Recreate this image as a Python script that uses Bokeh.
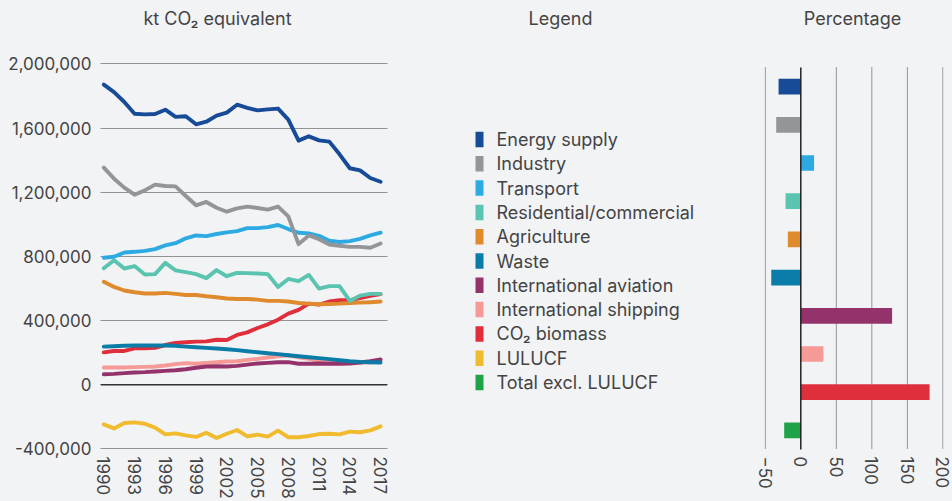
from bokeh.plotting import figure
from bokeh.layouts import row
from bokeh.models import FixedTicker, NumeralTickFormatter, Span, Range1d, ColumnDataSource
from bokeh.embed import file_html
from bokeh.resources import INLINE
from bokeh.core.properties import value

FONT = "Inter"
TXT = "#444444"
BG = "#f2f3f5"
GRID = "#333333"

years = list(range(1990, 2018))
year_ticks = [1990, 1993, 1996, 1999, 2002, 2005, 2008, 2011, 2014, 2017]
value_ticks = [-400000, 0, 400000, 800000, 1200000, 1600000, 2000000]

energy_supply = [1871000, 1825000, 1763000, 1690000, 1686000, 1688000, 1715000, 1670000, 1674000, 1624000,
                 1640000, 1678000, 1697000, 1746000, 1726000, 1711000, 1717000, 1722000, 1653000, 1522000,
                 1549000, 1524000, 1516000, 1437000, 1350000, 1337000, 1289000, 1266000]
industry = [1354000, 1285000, 1229000, 1185000, 1212000, 1248000, 1239000, 1237000, 1177000, 1119000,
            1140000, 1104000, 1079000, 1100000, 1111000, 1102000, 1092000, 1111000, 1050000, 877000,
            931000, 908000, 875000, 867000, 860000, 860000, 854000, 881000]
transport = [792000, 798000, 825000, 829000, 835000, 846000, 869000, 883000, 913000, 931000,
             927000, 940000, 950000, 958000, 977000, 977000, 983000, 996000, 971000, 948000,
             944000, 929000, 898000, 890000, 896000, 910000, 931000, 948000]
residential = [727000, 777000, 725000, 740000, 688000, 690000, 760000, 713000, 702000, 690000,
               665000, 715000, 677000, 698000, 696000, 694000, 690000, 610000, 660000, 646000,
               685000, 600000, 615000, 615000, 523000, 556000, 567000, 567000]
agriculture = [642000, 610000, 588000, 577000, 569000, 569000, 573000, 567000, 560000, 560000,
               552000, 546000, 538000, 535000, 535000, 531000, 523000, 523000, 519000, 510000,
               506000, 502000, 504000, 506000, 510000, 512000, 515000, 519000]
waste = [238000, 240000, 243000, 245000, 245000, 245000, 245000, 243000, 238000, 234000,
         230000, 226000, 222000, 216000, 209000, 203000, 197000, 191000, 184000, 178000,
         172000, 166000, 160000, 153000, 147000, 143000, 141000, 139000]
int_aviation = [66000, 68000, 73000, 77000, 79000, 83000, 87000, 91000, 97000, 106000,
                114000, 116000, 114000, 118000, 126000, 133000, 137000, 141000, 141000, 131000,
                131000, 133000, 131000, 131000, 133000, 139000, 147000, 158000]
int_shipping = [108000, 108000, 108000, 110000, 112000, 114000, 120000, 129000, 135000, 131000,
                137000, 141000, 145000, 147000, 155000, 162000, 170000, 178000, 184000, 172000,
                162000, 151000, 145000, 141000, 139000, 139000, 139000, 143000]
co2_biomass = [202000, 211000, 211000, 227000, 227000, 231000, 248000, 261000, 265000, 269000,
               271000, 281000, 279000, 311000, 327000, 354000, 377000, 406000, 444000, 467000,
               506000, 500000, 519000, 527000, 527000, 540000, 554000, 565000]
lulucf = [-247000, -272000, -238000, -234000, -243000, -267000, -309000, -303000, -315000, -325000,
          -299000, -332000, -305000, -282000, -321000, -311000, -323000, -286000, -327000, -327000,
          -319000, -307000, -305000, -309000, -292000, -296000, -284000, -259000]

legend_labels = ["Energy supply", "Industry", "Transport", "Residential/commercial", "Agriculture",
                 "Waste", "International aviation", "International shipping", "CO\u2082 biomass",
                 "LULUCF", "Total excl. LULUCF"]
legend_colors = ["#174a97", "#939598", "#2eaae2", "#5ac4b1", "#e08a2e", "#0a7ca8",
                 "#94336b", "#f59a97", "#df2f3c", "#f1bb2f", "#1ea349"]

series = [energy_supply, industry, transport, residential, agriculture, waste,
          int_aviation, int_shipping, co2_biomass, lulucf]

pct_labels = ["Energy supply", "Industry", "Transport", "Residential/commercial", "Agriculture",
              "Waste", "International aviation", "International shipping", "CO\u2082 biomass",
              "Total excl. LULUCF"]
pct_values = [-31.3, -34.6, 18.7, -21.5, -18.2, -41.6, 128.5, 31.8, 181.3, -23.4]
pct_colors = ["#174a97", "#939598", "#2eaae2", "#5ac4b1", "#e08a2e", "#0a7ca8",
              "#94336b", "#f59a97", "#df2f3c", "#1ea349"]
pct_ticks = [-50, 0, 50, 100, 150, 200]

H = 501
BOTTOM = 50          # space below the frames (tick labels)
FRAME_BOTTOM = H - BOTTOM   # page y of the frames' bottom edge


def style_axes(p):
    p.background_fill_color = BG
    p.border_fill_color = BG
    p.outline_line_color = None
    for ax in (p.xaxis, p.yaxis):
        ax.axis_line_color = None
        ax.major_tick_line_color = None
        ax.minor_tick_line_color = None
        ax.major_tick_out = 0
        ax.major_tick_in = 0
        ax.minor_tick_out = 0
        ax.minor_tick_in = 0
        ax.major_label_text_font = FONT
        ax.major_label_text_font_size = "17px"
        ax.major_label_text_color = TXT


def title_text(p, x, y, s):
    p.text(x=[x], y=[y], text=[s], text_font=value(FONT), text_font_size="18px",
           text_color=TXT, text_baseline="middle", text_align="center")


# ---------- left: line chart ----------
# pixel geometry of the left chart: 1990 at x=103.3, 10.25 px/year; 0 at y=384.3, 6234 units/px
X0, PXY, Y0, UPP = 103.3, 10.25, 384.3, 6234.0
def x1(px):
    return 1990 + (px - X0) / PXY
def y1(py):
    return (Y0 - py) * UPP

p1 = figure(width=440, height=H, output_backend="svg", toolbar_location=None,
            x_range=Range1d(x1(100), x1(387)), y_range=Range1d(y1(FRAME_BOTTOM), y1(0)),
            min_border_left=100, min_border_right=53, min_border_top=0, min_border_bottom=BOTTOM)
style_axes(p1)
p1.xaxis.ticker = FixedTicker(ticks=year_ticks)
p1.xaxis.major_label_orientation = "vertical"
p1.xaxis.major_label_standoff = 5
p1.yaxis.ticker = FixedTicker(ticks=value_ticks)
p1.yaxis.formatter = NumeralTickFormatter(format="0,0")
p1.yaxis.major_label_standoff = 9
p1.xgrid.grid_line_color = None
p1.ygrid.grid_line_color = GRID
p1.ygrid.grid_line_dash = "1 1"
p1.ygrid.grid_line_width = 1
p1.add_layout(Span(location=0, dimension="width", line_color="#333333", line_width=1.5))

for vals, col in reversed(list(zip(series, legend_colors[:10]))):
    p1.line(years, vals, line_color=col, line_width=3.9, line_join="round", line_cap="round")
title_text(p1, x1(217), y1(18), "kt CO\u2082 equivalent")

# ---------- middle: legend ----------
W2 = 300
p2 = figure(width=W2, height=H, output_backend="svg", toolbar_location=None,
            x_range=Range1d(0, W2), y_range=Range1d(FRAME_BOTTOM, 0),
            min_border_left=0, min_border_right=0, min_border_top=0, min_border_bottom=BOTTOM)
p2.background_fill_color = BG
p2.border_fill_color = BG
p2.outline_line_color = None
p2.axis.visible = False
p2.grid.visible = False
leg_y = [139 + 24.3 * i for i in range(len(legend_labels))]
src = ColumnDataSource(dict(y=leg_y, label=legend_labels, color=legend_colors))
p2.rect(x=39, y="y", width=8, height=15.5, fill_color="color", line_color=None, source=src)
p2.text(x=56, y="y", text="label", source=src, text_font=value(FONT), text_font_size="18px",
        text_color=TXT, text_baseline="middle", text_align="left")
title_text(p2, 120, 18, "Legend")

# ---------- right: percentage bars ----------
# pixel geometry: 0 at x=800.3, 0.7104 px/unit; row i centred at y=86.1+38.2*i
XZ, PXU, R0, RH = 800.3, 0.7104, 86.1, 38.2
def x3(px):
    return (px - XZ) / PXU
def y3(py):
    return (py - R0) / RH

rows = list(range(len(pct_labels)))
p3 = figure(width=212, height=H, output_backend="svg", toolbar_location=None,
            x_range=Range1d(x3(764), x3(943)), y_range=Range1d(y3(FRAME_BOTTOM), y3(0)),
            min_border_left=24, min_border_right=9, min_border_top=0, min_border_bottom=BOTTOM)
style_axes(p3)
p3.yaxis.visible = False
p3.xaxis.ticker = FixedTicker(ticks=pct_ticks)
p3.xaxis.major_label_orientation = "vertical"
p3.xaxis.major_label_standoff = 5
p3.grid.grid_line_color = None
grid_ticks = [t for t in pct_ticks if t != 0]
p3.segment(x0=grid_ticks, x1=grid_ticks, y0=-0.5, y1=len(rows) - 0.5,
           line_color=GRID, line_dash="1 1", line_width=1)
p3.hbar(y=rows, right=pct_values, left=0, height=0.41, fill_color=pct_colors, line_color=None)
p3.segment(x0=[0], x1=[0], y0=[-0.5], y1=[len(rows) - 0.5], line_color="#222222", line_width=1.5)
title_text(p3, x3(852), y3(18), "Percentage")

layout = row(p1, p2, p3, styles={"background-color": BG})
open("out.html", "w").write(file_html(layout, INLINE))
